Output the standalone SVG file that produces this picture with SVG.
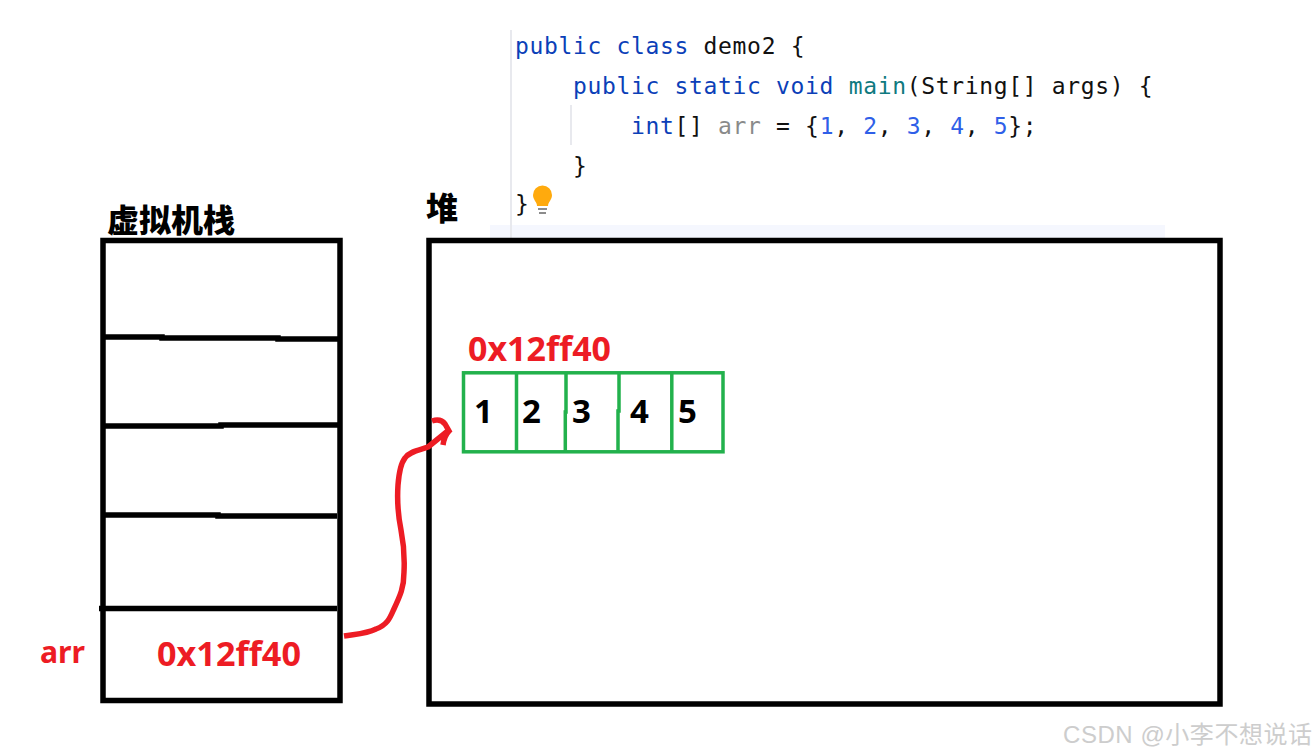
<svg xmlns="http://www.w3.org/2000/svg" width="1316" height="756" viewBox="0 0 1316 756">
<style>
.code{font-family:"DejaVu Sans Mono","Liberation Mono",monospace;font-size:23px;letter-spacing:.66px;fill:#111;white-space:pre}
.k{fill:#0b3fb8}.n{fill:#2f5fe8}.m{fill:#0f7a80}.g{fill:#8a8a8a}
.box{fill:none;stroke:#000;stroke-width:5.5}
.div{fill:none;stroke:#000;stroke-width:5.5}
.grid{fill:none;stroke:#22b14c;stroke-width:3.5}
.red{font-family:"Noto Sans","Liberation Sans",sans-serif;font-weight:700;fill:#ed1c24}
.num{font-family:"Noto Sans","Liberation Sans",sans-serif;font-weight:700;font-size:33px;fill:#000}
.cjk{font-family:"Noto Sans CJK SC",sans-serif;font-weight:900;font-size:32px;fill:#000}
</style>
<rect width="1316" height="756" fill="#fff"/>
<g id="code">
<rect x="490" y="225" width="675" height="13" fill="#f5f7fe"/>
<rect x="510" y="30" width="2" height="208" fill="#e8e9ee"/>
<rect x="570" y="105" width="2" height="40" fill="#e8e9ee"/>
<text class="code" x="515" y="54"><tspan class="k">public class</tspan> demo2 {</text>
<text class="code" x="573" y="94"><tspan class="k">public static void</tspan> <tspan class="m">main</tspan>(String[] args) {</text>
<text class="code" x="631" y="134"><tspan class="k">int</tspan>[] <tspan class="g">arr</tspan> = {<tspan class="n">1</tspan>, <tspan class="n">2</tspan>, <tspan class="n">3</tspan>, <tspan class="n">4</tspan>, <tspan class="n">5</tspan>};</text>
<text class="code" x="573" y="174">}</text>
<text class="code" x="515" y="212">}</text>
<path d="M537 206c0-4-4-6-4-11a9.500 9.500 0 0 1 19 0c0 5-4 7-4 11z" fill="#ffaa0d"/>
<path d="M538 208h9v2h-9zM539 212h7v2h-7z" fill="#8c8c8c"/>
</g>
<g id="stack">
<text class="cjk" x="107" y="232">虚拟机栈</text>
<rect class="box" x="103" y="240.500" width="237" height="460"/>
<path class="div" d="M103 337H162V338H278V339H340"/>
<path class="div" d="M103 426H221V425H340"/>
<path class="div" d="M103 515H218V516H337"/>
<path class="div" d="M99 608.500H337"/>
</g>
<g id="arr-cell">
<text class="red" x="40" y="663" font-size="31" textLength="45" lengthAdjust="spacingAndGlyphs">arr</text>
<text class="red" x="157" y="666" font-size="34" textLength="144" lengthAdjust="spacingAndGlyphs">0x12ff40</text>
</g>
<g id="heap">
<text class="cjk" x="426" y="220">堆</text>
<rect class="box" x="429" y="240.500" width="791" height="463.500"/>
</g>
<g id="array">
<text class="red" x="468" y="361" font-size="34" textLength="143" lengthAdjust="spacingAndGlyphs">0x12ff40</text>
<rect class="grid" x="463.500" y="372.800" width="259.500" height="79"/>
<path class="grid" d="M516.500 372.800V451.800M566 372.800V412H565.300V451.800M619 372.800V411H618V451.800M671.800 372.800V451.800"/>
<text class="num" x="474" y="423">1</text>
<text class="num" x="522" y="423">2</text>
<text class="num" x="572" y="423">3</text>
<text class="num" x="630" y="423">4</text>
<text class="num" x="678" y="423">5</text>
</g>
<g id="connectors">
<path d="M344 636C356 634 366 634 376 629C387 625 390 618 393 611C400 596 404 588 404 572C405 552 403 540 401 530C398 515 397 500 398 485C399 472 401 463 405 458C410 451 420 450 428 447L449 430M432 421C438 419 442 420 445 424L449 431C446 434 444 438 443 445" fill="none" stroke="#ed1c24" stroke-width="5.500"/>
</g>
<text id="watermark" x="1063" y="743" font-family="Liberation Sans,Noto Sans CJK SC,sans-serif" font-size="24" fill="#cdcdcd" textLength="249">CSDN @小李不想说话</text>
</svg>
